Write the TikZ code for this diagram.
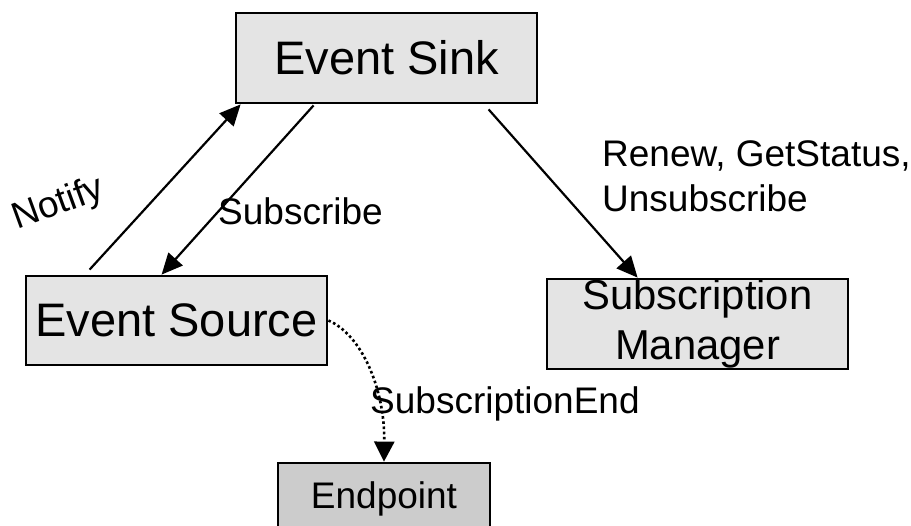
\documentclass[tikz,border=0pt]{standalone}
\usepackage{fontspec}
\setmainfont{Liberation Sans}
\usetikzlibrary{arrows.meta,calc}
\definecolor{boxfill}{HTML}{E4E4E4}
\definecolor{endfill}{HTML}{CCCCCC}
\begin{document}
\begin{tikzpicture}[x=1pt,y=-1pt,
  box/.style={draw=black, line width=2.8pt, fill=boxfill, inner sep=0pt, align=center},
  big/.style={font=\fontsize{47}{56}\selectfont},
  lbl/.style={inner sep=0pt, font=\fontsize{37}{45}\selectfont},
  link/.style={line width=2.2pt, -{Triangle[length=21pt,width=19pt]}},
  dotlink/.style={line width=2.6pt, dash pattern=on 2.6pt off 2.6pt,
                  -{Triangle[length=20pt,width=20pt]}}]
\useasboundingbox (0,0) rectangle (911,526);
\clip (0,0) rectangle (911,526);

% boxes
\node[box, big, minimum width=301pt, minimum height=90pt] (sink) at (386.5,58) {Event Sink};
\node[box, big, minimum width=301pt, minimum height=89pt] (src) at (176.5,320.5) {Event Source};
\node[box, font=\fontsize{41.8}{50}\selectfont, minimum width=301pt, minimum height=90pt]
  (mgr) at (697.5,324) {Subscription\\Manager};
\node[box, fill=endfill, font=\fontsize{37}{45}\selectfont, minimum width=212pt, minimum height=72pt]
  (ep) at (384,499) {Endpoint};

% connectors
\draw[link] ([xshift=65pt,yshift=5pt]src.north west) -- ([xshift=6pt]sink.south west);
\draw[link] ([xshift=79pt,yshift=-1pt]sink.south west) -- ([xshift=137pt]src.north west);
\draw[link] ([xshift=254pt,yshift=-5pt]sink.south west) -- ([xshift=92pt]mgr.north west);
\draw[dotlink] (src.east) .. controls ([xshift=33pt,yshift=-14pt]src.east)
  and ([xshift=1pt,yshift=73pt]ep.north) .. (ep.north);

% labels
\node[lbl, rotate=20, anchor=base west] (notify) at (17,230) {Notify};
\node[lbl, anchor=base west] (subl) at (218,225) {Subscribe};
\node[lbl, anchor=north west, align=left] (ops) at (602,140) {Renew, GetStatus,\\Unsubscribe};
\node[lbl, anchor=base west] (endl) at (370,414) {SubscriptionEnd};
\end{tikzpicture}
\end{document}
